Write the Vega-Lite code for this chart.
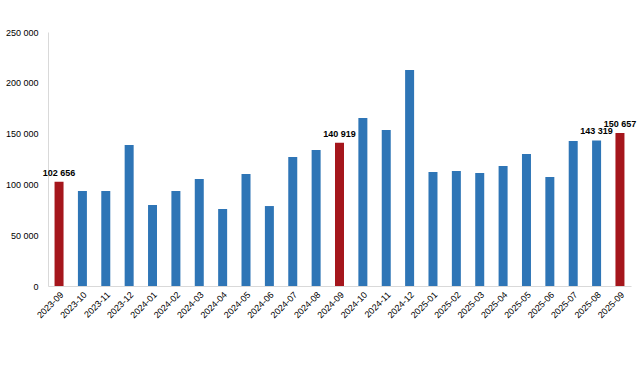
{
  "$schema": "https://vega.github.io/schema/vega-lite/v6.json",
  "autosize": "none",
  "width": 583,
  "height": 254,
  "padding": {"left": 48, "top": 32, "right": 10, "bottom": 94},
  "background": "white",
  "config": {
    "view": {"stroke": null},
    "font": "Liberation Sans",
    "locale": {"number": {"decimal": ",", "thousands": " ", "grouping": [3], "currency": ["", ""]}}
  },
  "data": {
    "values": [
      {"month": "2023-09", "value": 102656, "type": "h", "label": "102 656"},
      {"month": "2023-10", "value": 93500, "type": "n", "label": ""},
      {"month": "2023-11", "value": 93500, "type": "n", "label": ""},
      {"month": "2023-12", "value": 138800, "type": "n", "label": ""},
      {"month": "2024-01", "value": 79700, "type": "n", "label": ""},
      {"month": "2024-02", "value": 93500, "type": "n", "label": ""},
      {"month": "2024-03", "value": 105300, "type": "n", "label": ""},
      {"month": "2024-04", "value": 75800, "type": "n", "label": ""},
      {"month": "2024-05", "value": 110200, "type": "n", "label": ""},
      {"month": "2024-06", "value": 78700, "type": "n", "label": ""},
      {"month": "2024-07", "value": 127000, "type": "n", "label": ""},
      {"month": "2024-08", "value": 133900, "type": "n", "label": ""},
      {"month": "2024-09", "value": 140919, "type": "h", "label": "140 919"},
      {"month": "2024-10", "value": 165400, "type": "n", "label": ""},
      {"month": "2024-11", "value": 153500, "type": "n", "label": ""},
      {"month": "2024-12", "value": 212600, "type": "n", "label": ""},
      {"month": "2025-01", "value": 112200, "type": "n", "label": ""},
      {"month": "2025-02", "value": 113200, "type": "n", "label": ""},
      {"month": "2025-03", "value": 111200, "type": "n", "label": ""},
      {"month": "2025-04", "value": 118100, "type": "n", "label": ""},
      {"month": "2025-05", "value": 130000, "type": "n", "label": ""},
      {"month": "2025-06", "value": 107300, "type": "n", "label": ""},
      {"month": "2025-07", "value": 142700, "type": "n", "label": ""},
      {"month": "2025-08", "value": 143319, "type": "n", "label": "143 319"},
      {"month": "2025-09", "value": 150657, "type": "h", "label": "150 657"}
    ]
  },
  "encoding": {
    "x": {
      "field": "month", "type": "ordinal", "sort": null,
      "scale": {"paddingInner": 0.615, "paddingOuter": 0.28},
      "axis": {
        "title": null, "labelAngle": -45, "labelFontSize": 9, "labelColor": "#000000",
        "ticks": false, "domainColor": "#d9d9d9", "labelPadding": 4, "labelFont": "Liberation Sans"
      }
    },
    "y": {
      "field": "value", "type": "quantitative",
      "scale": {"domain": [0, 250000]},
      "axis": {
        "title": null, "values": [0, 50000, 100000, 150000, 200000, 250000], "format": ",d",
        "grid": false, "ticks": false, "domainColor": "#d9d9d9", "labelFontSize": 9,
        "labelColor": "#000000", "labelPadding": 10
      }
    }
  },
  "layer": [
    {
      "mark": {"type": "bar"},
      "encoding": {
        "color": {
          "field": "type", "type": "nominal",
          "scale": {"domain": ["h", "n"], "range": ["#A5161C", "#2E75B6"]},
          "legend": null
        }
      }
    },
    {
      "mark": {"type": "text", "dy": -9, "fontSize": 9, "fontWeight": "bold", "color": "#000000"},
      "encoding": {"text": {"field": "label"}}
    }
  ]
}
